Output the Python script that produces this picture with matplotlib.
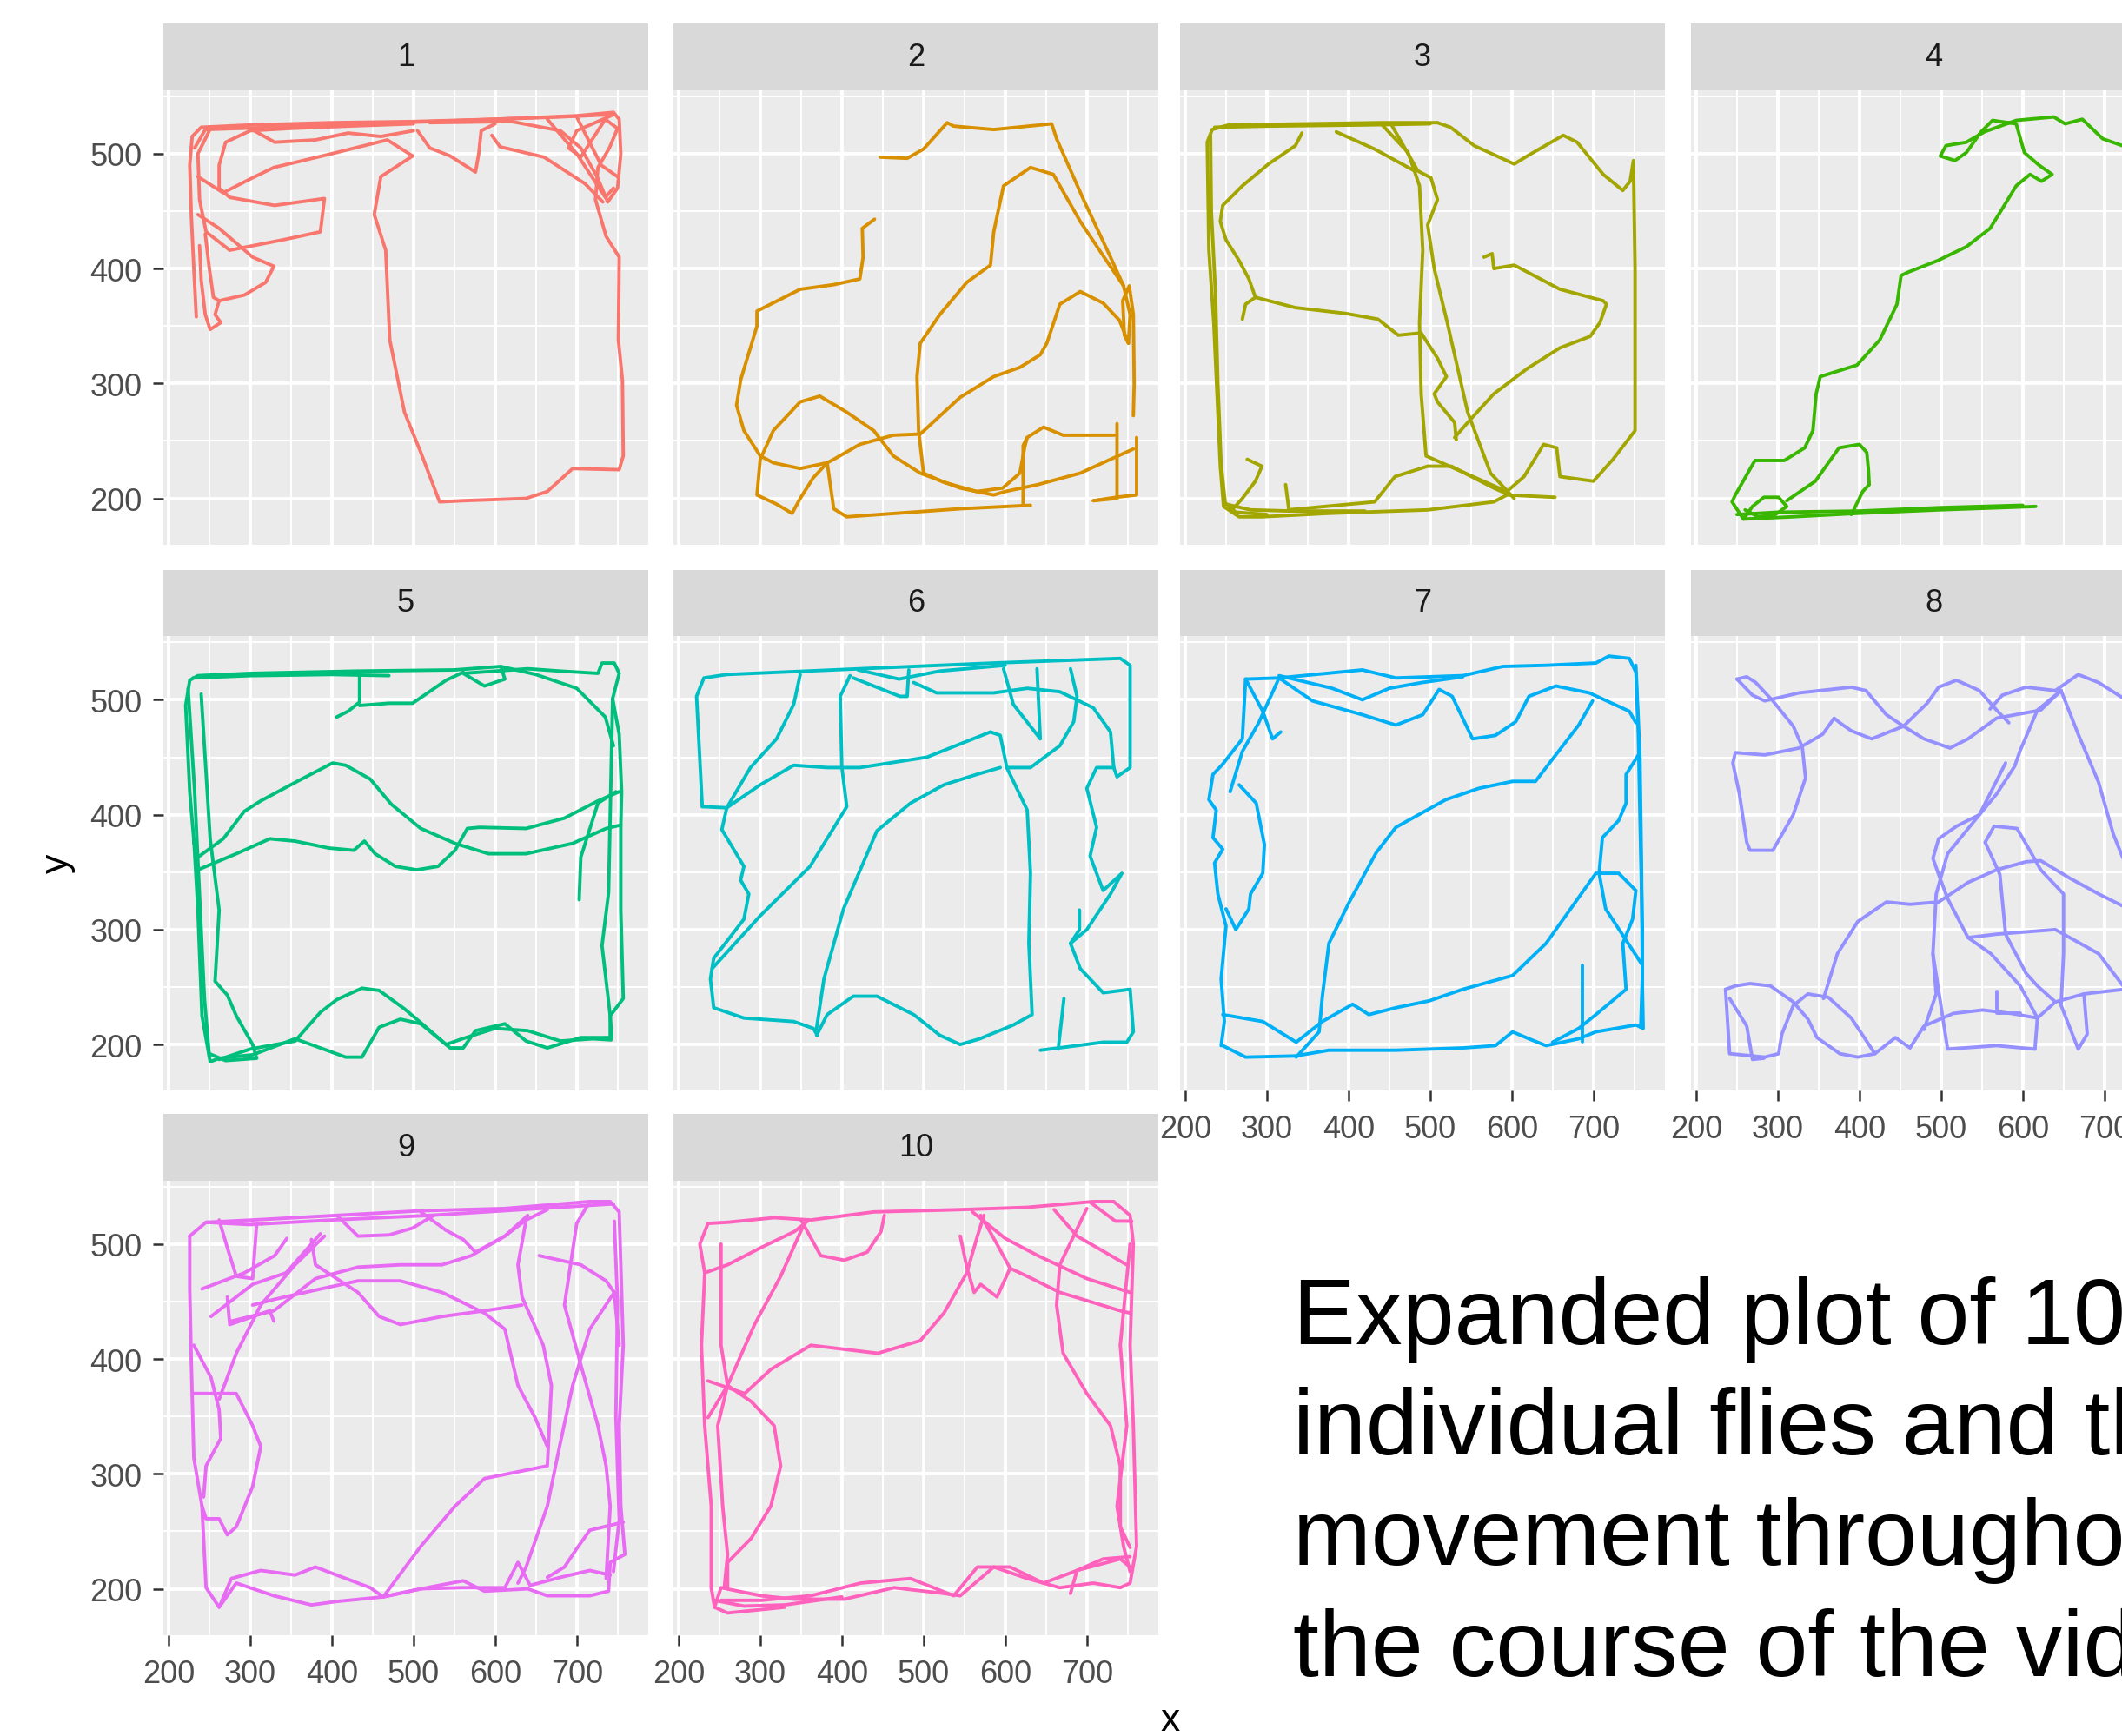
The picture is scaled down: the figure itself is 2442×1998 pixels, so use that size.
import matplotlib
matplotlib.use("Agg")
import matplotlib.pyplot as plt

plt.rcParams["font.family"] = ["Liberation Sans", "DejaVu Sans"]

# ---------------- data ----------------
fly_ids = ["1", "2", "3", "4", "5", "6", "7", "8", "9", "10"]

x_ticks = [200, 300, 400, 500, 600, 700]
y_ticks = [200, 300, 400, 500]
x_minor = [250, 350, 450, 550, 650, 750]
y_minor = [250, 350, 450, 550]
x_limits = (193.7, 787.6)
y_limits = (160.0, 555.5)

# each fly: list of traced path pieces, points are (x, y)
fly1 = [
    [(234,358),(231,400),(228,445),(226,490),(229,515),(240,523),(300,525),(400,527),(500,528),(600,530),(700,533),(745,536),(752,530),(754,500),(750,470),(738,458),(725,480),(705,505),(680,520),(620,528),(520,527)],
    [(505,520),(520,505),(545,498),(576,484),(580,500),(583,520),(600,526)],
    [(500,526),(420,524),(350,522),(300,520),(270,510),(262,490),(262,470),(275,462),(330,455),(391,461),(386,432),(340,425),(275,416),(246,432),(238,460),(236,500),(250,520)],
    [(236,480),(267,466),(300,478),(329,488),(400,500),(468,512),(499,498)],
    [(499,498),(460,480),(452,447),(466,416),(471,338),(489,275),(509,240),(532,197),(561,198),(638,200),(664,206),(695,226),(752,225),(757,237),(756,303),(751,338),(752,410),(736,428),(723,460),(726,488),(740,505),(750,522),(735,530),(705,497),(690,505),(700,520),(745,534)],
    [(236,447),(262,435),(303,410),(329,402),(319,388),(293,377),(262,372),(257,360),(264,353),(251,347),(245,360),(240,390),(238,420)],
    [(245,430),(250,400),(255,375),(262,372)],
    [(664,530),(700,500),(735,462),(745,470)],
    [(700,532),(730,490),(750,480)],
    [(596,516),(606,506),(660,497),(710,474),(732,458)],
    [(232,505),(245,521),(330,523),(450,526),(560,529),(680,532),(742,534)],
    [(300,522),(330,510),(380,512),(420,518),(460,515),(500,520)],
]

fly2 = [
    [(447,497),(480,496),(500,504),(529,527),(537,524),(586,521),(657,526),(663,513),(696,460),(729,410),(745,385),(753,360),(751,335),(746,342),(744,372),(752,385),(757,360),(758,300),(757,272)],
    [(745,385),(724,407),(692,441),(659,482),(631,488),(598,472),(586,432),(582,403),(553,388),(520,360),(496,335),(492,306),(494,259),(500,222),(525,214),(565,206),(597,209),(618,222),(624,245),(627,253),(647,262),(671,255),(734,255)],
    [(737,265),(737,200),(708,198)],
    [(757,243),(729,234),(692,222),(640,212),(600,206),(586,203),(545,209),(496,222),(463,237),(439,259),(406,275),(373,289),(349,284),(316,259),(300,234),(296,203),(320,195),(339,187),(349,200),(365,218),(382,231),(390,234),(422,247),(463,255),(496,256),(545,288),(586,306),(618,314),(643,325),(651,335),(667,369),(692,380),(720,370),(740,355),(751,335)],
    [(440,443),(425,435),(426,410),(422,391),(390,386),(349,382),(296,363),(296,350),(276,303),(271,281),(280,259),(300,237),(316,231),(349,226),(382,231)],
    [(382,231),(390,191),(406,184),(545,191),(631,194)],
    [(622,194),(622,246),(627,253)],
    [(761,253),(761,203),(736,201),(708,198)],
]

fly3 = [
    [(509,527),(440,527),(347,526),(253,525),(233,521),(227,510),(229,416),(235,353),(239,291),(243,228),(247,193),(266,184),(294,184),(375,187),(497,190),(578,197),(594,203),(653,201)],
    [(509,527),(525,523),(554,507),(603,491),(619,498),(663,516),(680,510),(712,482),(736,468),(745,476),(749,494),(751,400),(751,300),(751,259),(724,234),(700,215),(659,219),(655,244),(639,247),(615,219),(594,206)],
    [(440,526),(473,501),(487,472),(491,416),(487,353),(489,291),(495,237),(594,206)],
    [(452,526),(485,485),(501,479),(509,460),(497,438),(505,400),(521,353),(546,275),(574,222),(603,200)],
    [(385,519),(432,504),(481,485)],
    [(343,518),(335,507),(302,491),(270,472),(246,455),(243,441),(250,425),(266,407),(278,391),(286,375),(274,369),(270,356)],
    [(286,375),(335,366),(396,361),(436,356),(461,342),(489,344),(509,322),(520,306),(505,291),(509,284),(530,266),(532,251)],
    [(566,410),(576,413),(578,400),(603,403),(611,400),(659,382),(712,372),(716,369),(708,353),(696,341),(659,331),(619,313),(578,291),(546,266),(530,253)],
    [(326,190),(432,197),(457,219),(497,228),(526,228),(578,209),(594,204)],
    [(276,234),(294,228),(286,215),(270,200),(260,192)],
    [(323,212),(327,190)],
    [(231,516),(232,450),(237,380),(240,300),(244,230),(249,196),(262,188),(300,186)],
    [(236,523),(300,524),(420,525),(500,526)],
    [(250,195),(280,190),(330,189),(420,189)],
]

fly4 = [
    [(616,193),(496,190),(397,187),(318,184),(258,182),(244,197),(248,203),(272,233),(308,233),(333,244),(343,259),(347,291),(352,306),(397,316),(425,338),(446,369),(451,394),(460,397),(496,407),(531,419),(560,435),(574,451),(592,472),(609,482),(623,476),(636,482),(620,490),(602,501),(592,526),(563,529),(549,519),(531,501),(517,494),(499,498),(506,507),(531,510),(553,519),(592,529),(638,532),(652,526),(673,530),(698,513),(722,507),(745,505)],
    [(258,182),(269,193),(283,201),(301,201),(311,193),(297,186),(276,184),(260,190)],
    [(311,198),(346,215),(375,244),(400,247),(409,240),(411,225),(412,212),(404,206),(393,190),(390,186)],
    [(250,186),(300,188),(400,189),(500,192),(600,194)],
]

fly5 = [
    [(236,352),(231,378),(226,420),(221,495),(226,517),(236,521),(300,523),(432,525),(550,526),(607,529),(612,518),(587,512),(561,523),(640,527),(680,525),(726,523),(731,532),(746,532),(752,523),(744,501),(752,470),(755,420),(754,390),(754,317),(757,240),(741,225),(741,206),(705,206),(664,197),(638,203),(612,218),(576,212),(561,197),(545,197),(509,218),(484,222),(458,215),(437,189),(417,189),(386,197),(355,205),(329,198),(303,191),(262,188),(251,185),(241,225),(236,317),(231,379)],
    [(240,505),(251,379),(262,317),(257,255),(272,243),(283,225),(303,200),(308,188),(270,186),(250,192)],
    [(262,187),(300,196),(355,203),(386,228),(406,239),(437,249),(458,247),(489,231),(509,219),(540,200),(560,205),(600,214),(640,212),(680,203),(720,205),(742,204)],
    [(236,363),(267,379),(293,403),(313,412),(355,428),(401,445),(417,443),(447,431),(473,409),(509,388),(551,375),(592,366),(638,366),(695,375),(736,388),(754,391)],
    [(236,352),(283,366),(324,379),(355,377),(396,371),(427,369),(440,377),(453,366),(478,355),(504,352),(530,355),(551,369),(566,388),(581,389),(638,388),(685,397),(726,412),(752,420)],
    [(703,326),(705,363),(726,410),(748,420)],
    [(406,485),(420,490),(434,498),(434,523)],
    [(434,495),(470,497),(499,497),(540,517),(561,524)],
    [(744,501),(739,332),(731,286),(741,225),(743,206)],
    [(607,529),(650,522),(700,510),(735,485),(745,460)],
    [(224,510),(232,420),(238,330),(244,240),(250,190)],
    [(230,519),(300,521),(400,522),(470,521)],
]

fly6 = [
    [(229,407),(222,503),(231,519),(259,522),(422,527),(586,532),(741,536),(753,530),(753,441),(737,433),(733,441)],
    [(229,407),(259,406),(253,387),(280,355),(276,343),(286,331),(280,309),(243,275),(239,257),(243,232),(280,223),(341,220),(365,214),(370,208)],
    [(241,266),(300,312),(361,355),(406,407),(400,441),(398,503),(410,521)],
    [(259,406),(288,441),(320,466),(341,496),(349,522)],
    [(259,406),(300,426),(341,443),(382,441),(422,441),(504,450),(582,472),(594,469),(602,441),(627,404),(631,349),(629,288),(633,226),(610,217),(569,205),(545,200),(520,208),(488,226),(443,242),(414,242),(382,226),(369,208)],
    [(602,441),(631,441),(667,460),(684,481),(688,503),(680,527)],
    [(369,214),(378,257),(402,318),(443,386),(484,410),(525,426),(565,435),(594,441)],
    [(598,527),(610,496),(643,466),(639,527)],
    [(414,519),(471,503),(480,503),(482,526)],
    [(488,515),(516,506),(586,506),(627,510),(667,507),(708,493),(729,472),(733,441)],
    [(733,441),(712,441),(700,423),(712,389),(704,364),(720,334),(743,349),(729,331),(700,300),(680,288),(692,266),(720,245),(753,248),(757,211),(749,202),(720,202),(688,199),(643,195)],
    [(691,317),(691,300),(680,288)],
    [(672,240),(665,196)],
    [(420,526),(470,518),(520,525),(600,530)],
]

fly7 = [
    [(274,518),(315,519),(417,526),(458,519),(540,521),(589,529),(642,530),(703,532),(719,538),(744,536),(752,524),(755,470),(757,400),(760,300),(760,250),(761,214),(752,217),(703,211),(682,205),(642,199),(621,205),(601,211),(580,199),(540,197),(458,195),(376,195),(335,190),(274,189),(246,199)],
    [(315,519),(356,499),(417,487),(458,478),(491,487),(511,509),(527,503),(552,466),(580,469),(605,481),(621,503),(654,512),(695,506),(744,490),(752,480)],
    [(315,521),(380,510),(417,500),(450,510),(490,515),(540,520)],
    [(699,499),(682,478),(629,429),(601,429),(560,423),(519,413),(458,389),(434,367),(401,324),(376,288),(368,242),(364,211),(336,189)],
    [(246,226),(295,220),(336,202),(368,220),(405,235),(425,226),(458,232),(499,238),(540,248),(601,260),(642,288),(703,349),(731,349),(752,334),(748,309),(736,288),(740,248),(703,226),(682,214),(650,202)],
    [(756,453),(740,435),(740,410),(731,395),(711,380),(707,349),(715,318),(760,269)],
    [(687,269),(687,202)],
    [(274,518),(270,466),(246,444),(234,435),(229,413),(238,404),(234,380),(246,370),(236,358),(240,331),(250,303),(244,257),(248,220),(244,199)],
    [(266,426),(287,410),(297,374),(295,349),(280,331),(278,318),(262,300),(250,318)],
    [(274,518),(295,490),(307,466),(317,472)],
    [(315,519),(290,480),(270,455),(255,420)],
    [(752,530),(757,450),(759,350),(760,260),(758,215)],
]

fly8 = [
    [(250,518),(262,520),(273,515),(294,499),(319,477),(330,459),(334,432),(319,400),(294,369),(266,369),(262,376),(253,418),(245,445),(248,454),(284,452),(326,458),(355,470),(369,484),(376,480),(390,473),(415,466),(454,477),(483,497),(497,511),(519,517),(547,508),(568,491),(583,480)],
    [(250,518),(269,504),(284,499),(326,506),(390,511),(408,508),(433,487),(454,477),(479,466),(511,458),(533,466),(568,484),(622,491),(647,508)],
    [(560,492),(575,504),(604,511),(640,508),(668,522),(693,515),(724,501),(745,490)],
    [(647,508),(618,491),(597,456),(590,442),(568,418),(547,400),(519,390),(497,379),(490,362),(497,348),(508,327),(533,293),(561,279),(597,251),(618,223),(615,196)],
    [(579,445),(547,400),(508,366),(494,331),(490,279),(494,244),(479,213)],
    [(490,279),(508,196),(568,199),(615,196)],
    [(236,248),(241,192),(284,189),(301,192),(305,209),(319,234),(337,244),(362,241),(390,223),(419,192),(444,206),(462,197),(479,216),(515,227),(551,230),(586,227),(618,223),(640,237),(675,244),(724,248),(750,250)],
    [(236,248),(248,251),(266,253),(291,251),(319,237),(337,222),(348,206),(376,192),(398,189),(419,192)],
    [(241,240),(262,216),(269,187),(283,188)],
    [(356,240),(373,279),(398,307),(433,324),(462,322),(497,324),(533,341),(568,352),(604,359),(622,360),(657,345),(693,331),(724,320),(750,310)],
    [(554,376),(565,390),(593,388),(611,366),(622,352),(650,331),(650,279),(647,234),(668,196),(679,209),(675,244)],
    [(554,376),(572,348),(579,296),(604,262),(618,251),(640,237)],
    [(533,293),(568,296),(640,300),(693,279),(724,250)],
    [(647,508),(668,470),(693,428),(711,383),(724,360),(745,330)],
    [(568,246),(568,227),(597,227)],
]

fly9 = [
    [(226,507),(246,519),(303,521),(406,525),(509,529),(612,531),(716,537),(741,537),(752,528),(754,482),(757,412),(752,342),(754,272),(759,230),(741,223),(739,198),(716,194),(664,194),(640,200),(587,198),(561,207),(509,200),(463,193),(406,189),(375,186),(329,194),(283,205),(262,184),(246,201),(241,272),(231,314),(228,395),(226,461),(226,507)],
    [(262,184),(277,209),(313,216),(355,212),(380,219),(406,212),(447,201),(463,193),(509,200),(560,201),(612,201),(628,223),(643,203),(680,210),(716,216),(741,212)],
    [(463,193),(509,237),(551,272),(587,296),(664,307),(669,377),(659,412),(633,454),(628,482),(638,521),(664,530)],
    [(716,537),(700,518),(685,447),(705,395),(726,342),(736,307),(741,272),(736,209)],
    [(654,490),(705,482),(736,468),(746,458),(752,412)],
    [(746,458),(716,426),(695,377),(679,324),(664,272),(638,219),(628,205)],
    [(757,258),(716,251),(700,235),(685,219),(664,210)],
    [(303,447),(330,452),(380,460),(432,468),(484,468),(535,458),(587,440),(612,426),(628,377),(649,349),(664,324)],
    [(277,433),(329,442),(380,470),(432,480),(484,482),(535,482),(571,490),(612,507),(640,525)],
    [(375,504),(380,482),(432,458),(458,437),(484,430),(535,437),(587,442),(633,447)],
    [(406,525),(432,507),(470,508),(499,514),(525,525)],
    [(509,528),(540,512),(561,504),(576,493),(612,507),(638,521)],
    [(231,370),(262,370),(283,370),(303,342),(313,324),(303,289),(283,254),(272,247),(262,261),(246,261),(241,272)],
    [(231,412),(252,384),(262,356),(264,331),(246,307),(243,280)],
    [(262,365),(283,405),(313,447),(355,482),(391,507)],
    [(252,437),(303,465),(344,475),(386,509)],
    [(241,461),(293,475),(330,490),(345,505)],
    [(262,521),(272,497),(283,472),(303,470),(308,518)],
    [(272,454),(275,430),(324,442),(329,433)],
    [(246,519),(300,517),(400,521),(520,525),(700,533),(745,535)],
    [(746,520),(750,450),(748,350),(752,260),(745,215)],
]

fly10 = [
    [(236,518),(260,519),(317,523),(362,521),(439,528),(545,530),(627,532),(708,537),(733,537),(753,525),(757,500),(753,412),(757,342),(761,237),(753,205),(741,201),(708,205),(667,201),(627,209),(586,219),(545,194),(525,196),(464,201),(403,191),(342,191),(301,194),(252,201),(244,184),(260,179),(330,184)],
    [(236,518),(226,500),(232,475),(228,412),(232,342),(240,272),(240,201),(244,184)],
    [(252,190),(301,190),(362,194),(423,205),(484,209),(537,194),(566,219),(606,219),(647,205),(688,216),(741,226),(753,219)],
    [(252,500),(252,412),(260,377),(248,342),(254,272),(260,230),(256,201)],
    [(236,381),(281,370),(313,391),(362,412),(444,405),(496,416),(525,440),(553,475),(566,507),(574,525)],
    [(236,349),(260,377),(293,430),(325,472),(354,518)],
    [(260,377),(289,363),(317,342),(325,307),(313,272),(289,244),(260,223),(260,201)],
    [(350,521),(374,490),(403,486),(431,493),(448,511),(452,525)],
    [(232,475),(260,482),(301,497),(342,511),(358,520)],
    [(545,507),(553,480),(562,458),(570,465),(590,454),(606,479),(627,472),(667,458),(741,442),(753,440)],
    [(570,525),(590,500),(606,479)],
    [(560,528),(600,505),(640,490),(700,470),(753,458)],
    [(660,530),(688,507),(749,482)],
    [(700,531),(667,482),(663,447),(671,405),(700,370),(729,342),(741,307),(741,254),(753,236)],
    [(705,536),(735,520),(755,520)],
    [(680,196),(688,216),(720,226),(753,228)],
    [(753,500),(741,412),(749,342),(737,272),(745,237),(753,215)],
    [(244,190),(280,185),(330,186),(400,193)],
]

flies = [fly1, fly2, fly3, fly4, fly5, fly6, fly7, fly8, fly9, fly10]

caption_lines = ["Expanded plot of 10", "individual flies and their",
                 "movement throughout", "the course of the video."]

# ---------------- style / layout ----------------
palette = ["#F8766D", "#D89000", "#A3A500", "#39B600", "#00BF7D",
           "#00BFC4", "#00B0F6", "#9590FF", "#E76BF3", "#FF62BC"]

W, H, DPI = 2442, 1999, 100
fig = plt.figure(figsize=(W / DPI, H / DPI), dpi=DPI)
fig.patch.set_facecolor("white")

col_left = [188, 775, 1358, 1946]
row_top = [104.5, 733, 1359.5]
PW, PH, SH = 558, 523, 76.5

for i, (fid, strokes) in enumerate(zip(fly_ids, flies)):
    r, c = divmod(i, 4)
    left, top = col_left[c], row_top[r]
    ax = fig.add_axes([left / W, 1 - (top + PH) / H, PW / W, PH / H])
    ax.set_facecolor("#EBEBEB")
    for sp in ax.spines.values():
        sp.set_visible(False)
    ax.set_xlim(*x_limits)
    ax.set_ylim(*y_limits)
    ax.set_xticks(x_ticks)
    ax.set_yticks(y_ticks)
    ax.set_xticks(x_minor, minor=True)
    ax.set_yticks(y_minor, minor=True)
    ax.grid(which="major", color="white", linewidth=2.8)
    ax.grid(which="minor", color="white", linewidth=1.4)
    ax.set_axisbelow(True)
    ax.tick_params(which="minor", length=0, labelbottom=False, labelleft=False)
    show_x = i >= 6
    show_y = c == 0
    ax.tick_params(axis="x", which="major", length=8.6 if show_x else 0,
                   width=1.8, color="#333333", labelsize=26,
                   labelcolor="#4D4D4D", pad=11, labelbottom=show_x)
    ax.tick_params(axis="y", which="major", length=8.6 if show_y else 0,
                   width=1.8, color="#333333", labelsize=26,
                   labelcolor="#4D4D4D", pad=9, labelleft=show_y)
    for stroke in strokes:
        xs = [p[0] for p in stroke]
        ys = [p[1] for p in stroke]
        ax.plot(xs, ys, color=palette[i], linewidth=2.8,
                solid_joinstyle="round", solid_capstyle="round")

    sax = fig.add_axes([left / W, 1 - top / H, PW / W, SH / H])
    sax.set_facecolor("#D9D9D9")
    sax.set_xticks([])
    sax.set_yticks([])
    for sp in sax.spines.values():
        sp.set_visible(False)
    sax.text(0.5, 0.5, fid, ha="center", va="center", fontsize=26,
             color="#1A1A1A", transform=sax.transAxes)

fig.text(1347 / W, 1 - 1992 / H, "x", fontsize=32, ha="center",
         va="baseline", color="black")
fig.text(66 / W, 1 - 994 / H, "y", fontsize=32, ha="center",
         va="center", rotation=90, color="black")

baselines = [1547, 1674, 1801.5, 1929]
for line, b in zip(caption_lines, baselines):
    fig.text(1488 / W, 1 - b / H, line, fontsize=77.5, ha="left",
             va="baseline", color="black")

fig.savefig("out.png", dpi=DPI, facecolor="white")
